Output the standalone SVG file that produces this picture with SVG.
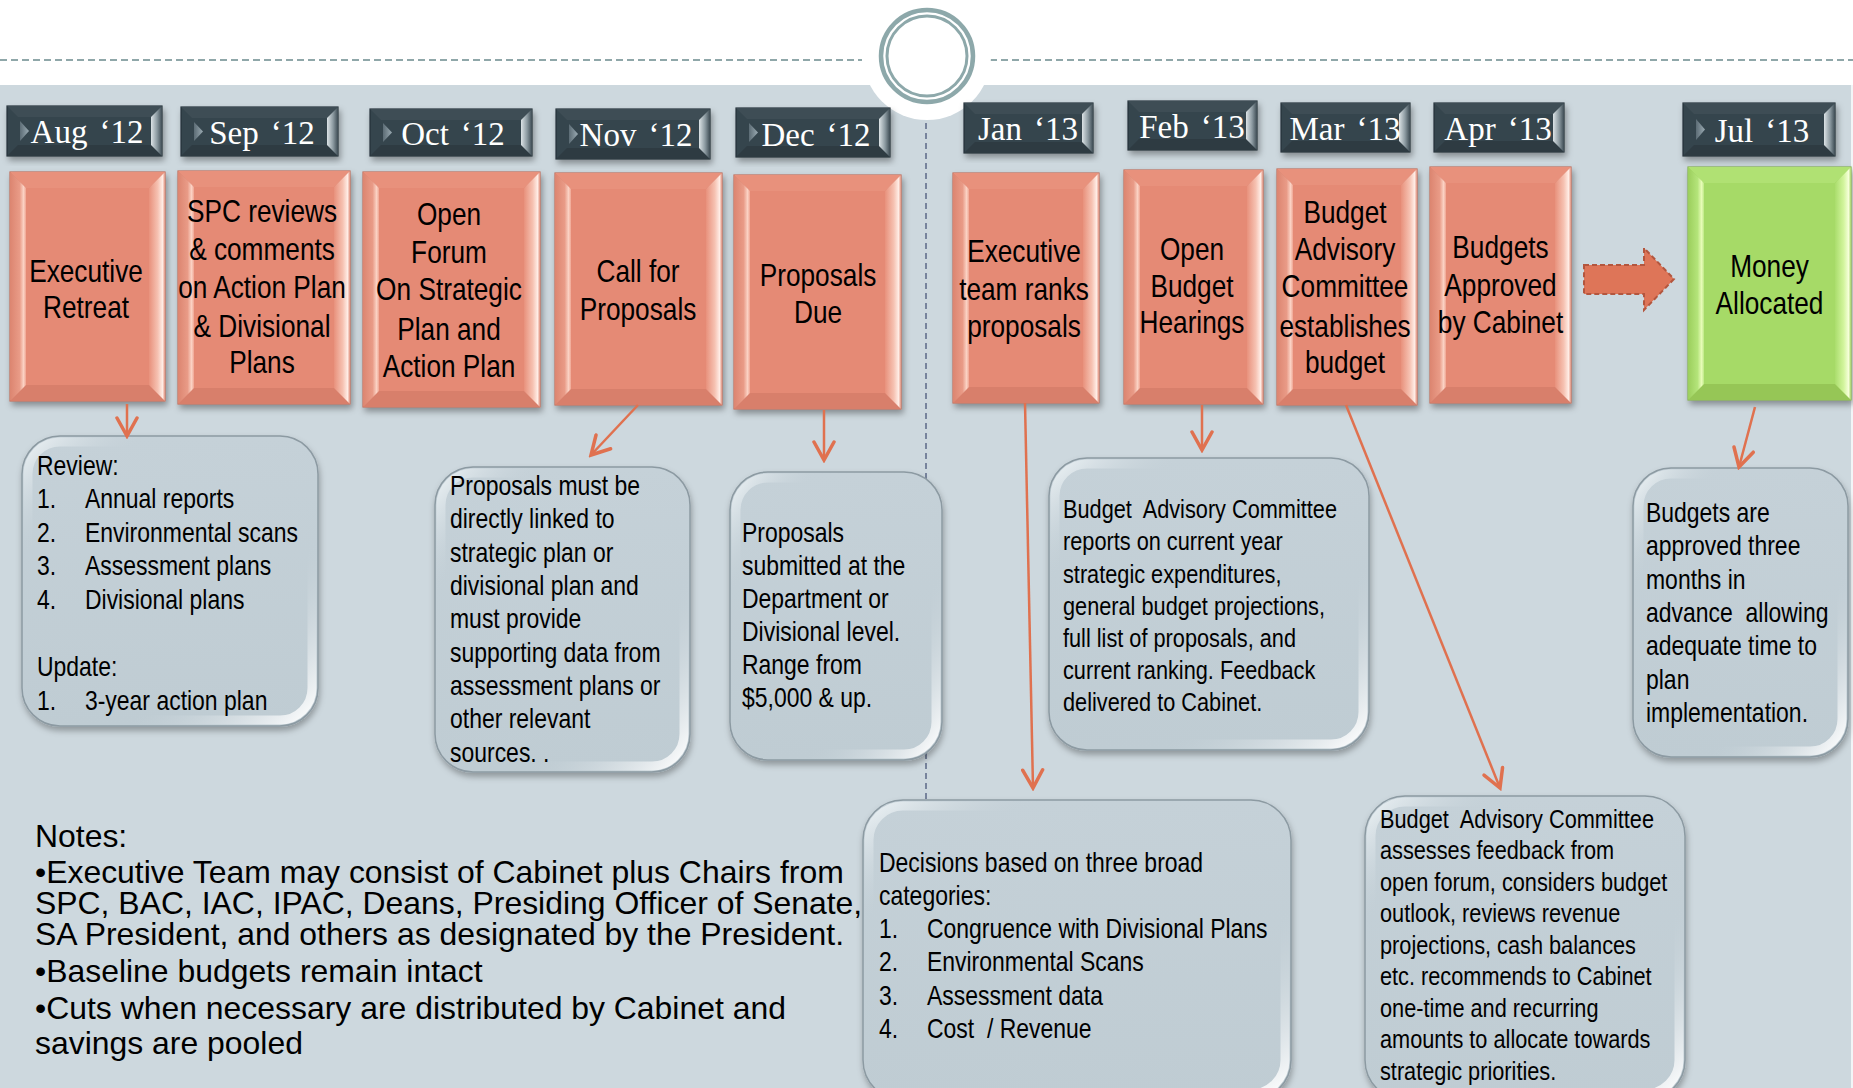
<svg xmlns="http://www.w3.org/2000/svg" width="1853" height="1088" viewBox="0 0 1853 1088">
<defs>
<style>
.bg{fill:#CDD8DE}
.so{fill:#D98572;stroke:#BF6E5C;stroke-width:1.2;filter:url(#sh)}
.st{fill:#E8917C}
.sb{fill:#D87F6B}
.sl{fill:url(#sL)}
.sr{fill:url(#sR)}
.sf{fill:#E58A75}
.go{fill:#9CCF5C;stroke:#84AE4E;stroke-width:1.2;filter:url(#sh)}
.gt{fill:#B0E173}
.gb{fill:#96C656}
.gl{fill:url(#gL)}
.gr{fill:url(#gR)}
.gf{fill:#A6DA67}
.lo{fill:#36454D;stroke:#27333A;stroke-width:1.2;filter:url(#sh)}
.lt2{fill:#3E4D55}
.lb2{fill:#2E3B42}
.lr{fill:url(#lR)}
.ltri{fill:url(#lT)}
.lt{font-family:"Liberation Serif","Times New Roman",serif;font-size:33px;fill:#FFFFFF;text-anchor:middle}
.tt{font-family:"Liberation Sans",Arial,sans-serif;font-size:32px;fill:#000;text-anchor:middle}
.nt{font-family:"Liberation Sans",Arial,sans-serif;font-size:28px;fill:#000}
.ns{font-family:"Liberation Sans",Arial,sans-serif;font-size:26.5px;fill:#000;white-space:pre}
.notes{font-family:"Liberation Sans",Arial,sans-serif;font-size:31px;fill:#000}
.nb{fill:url(#nF);stroke:#8C9AA2;stroke-width:1.5;filter:url(#sh2)}
.nh{fill:none;stroke:url(#nH);stroke-width:9}
.conn{fill:none;stroke:#E0714F;stroke-width:2.5;marker-end:url(#ah)}
</style>
<filter id="sh" x="-15%" y="-10%" width="135%" height="130%">
<feDropShadow dx="2" dy="4" stdDeviation="3" flood-color="#000" flood-opacity="0.35"/>
</filter>
<filter id="sh2" x="-15%" y="-10%" width="135%" height="130%">
<feDropShadow dx="1" dy="4" stdDeviation="3" flood-color="#000" flood-opacity="0.3"/>
</filter>
<linearGradient id="sL" x1="0" y1="0" x2="1" y2="0">
<stop offset="0" stop-color="#DC8570"/><stop offset="0.6" stop-color="#E99B87"/><stop offset="0.85" stop-color="#FBD3C5"/><stop offset="1" stop-color="#EFA592"/>
</linearGradient>
<linearGradient id="sR" x1="0" y1="0" x2="1" y2="0">
<stop offset="0" stop-color="#E8917C"/><stop offset="0.55" stop-color="#F6C2B2"/><stop offset="0.85" stop-color="#FFEDE6"/><stop offset="1" stop-color="#E0907D"/>
</linearGradient>
<linearGradient id="gL" x1="0" y1="0" x2="1" y2="0">
<stop offset="0" stop-color="#9BCE5C"/><stop offset="0.6" stop-color="#B4E47A"/><stop offset="0.85" stop-color="#E8FCB8"/><stop offset="1" stop-color="#BDE985"/>
</linearGradient>
<linearGradient id="gR" x1="0" y1="0" x2="1" y2="0">
<stop offset="0" stop-color="#AADD6C"/><stop offset="0.55" stop-color="#D3F59E"/><stop offset="0.85" stop-color="#F6FFDA"/><stop offset="1" stop-color="#A3D265"/>
</linearGradient>
<linearGradient id="lR" x1="0" y1="0" x2="1" y2="0">
<stop offset="0" stop-color="#DCE3E6"/><stop offset="0.55" stop-color="#8C9AA1"/><stop offset="1" stop-color="#3E4C54"/>
</linearGradient>
<linearGradient id="lT" x1="0" y1="0" x2="1" y2="0">
<stop offset="0" stop-color="#5C6C75"/><stop offset="1" stop-color="#9AAAB2"/>
</linearGradient>
<linearGradient id="nF" x1="0" y1="0" x2="0" y2="1">
<stop offset="0" stop-color="#C5D1D8"/><stop offset="1" stop-color="#BFCCD3"/>
</linearGradient>
<linearGradient id="nH" x1="0" y1="0" x2="1" y2="1">
<stop offset="0" stop-color="#F2F7F9" stop-opacity="0.85"/><stop offset="0.2" stop-color="#C4D0D7" stop-opacity="0"/><stop offset="0.68" stop-color="#C4D0D7" stop-opacity="0"/><stop offset="1" stop-color="#FFFFFF" stop-opacity="1"/>
</linearGradient>
<marker id="ah" viewBox="0 0 24 24" markerWidth="24" markerHeight="24" refX="21" refY="12" orient="auto" markerUnits="userSpaceOnUse">
<path d="M3,2 L21,12 L3,22" fill="none" stroke="#E0714F" stroke-width="3.5" stroke-linecap="round"/>
</marker>
</defs>

<!-- background -->
<rect x="0" y="0" width="1853" height="1088" class="bg"/>
<rect x="0" y="0" width="1853" height="85" fill="#FFFFFF"/>
<rect x="1851" y="85" width="2" height="1003" fill="#F2F5F7"/>
<line x1="0" y1="60" x2="862" y2="60" stroke="#8FA7A9" stroke-width="2" stroke-dasharray="7 4"/>
<line x1="990" y1="60" x2="1853" y2="60" stroke="#8FA7A9" stroke-width="2" stroke-dasharray="7 4"/>
<circle cx="927" cy="56" r="64" fill="#FFFFFF"/>
<circle cx="927" cy="56" r="46" fill="none" stroke="#8DA8AA" stroke-width="4.5"/>
<circle cx="927" cy="56" r="40" fill="none" stroke="#8DA8AA" stroke-width="3"/>
<line x1="926" y1="123" x2="926" y2="800" stroke="#6E7B96" stroke-width="1.8" stroke-dasharray="6 4"/>

<!-- month labels -->
<g id="lbl-aug" transform="translate(7,106)">
<rect class="lo" width="155" height="50"/><polygon class="lt2" points="0,0 155,0 144,11 11,11"/><polygon class="lb2" points="0,50 155,50 144,39 11,39"/><polygon class="lr" points="155,0 144,11 144,39 155,50"/><polygon class="ltri" points="13,15 22,25 13,35"/>
<text class="lt" x="80" y="37">Aug<tspan dx="12">‘12</tspan></text>
</g>
<g id="lbl-sep" transform="translate(181,107)">
<rect class="lo" width="157" height="49"/><polygon class="lt2" points="0,0 157,0 146,11 11,11"/><polygon class="lb2" points="0,49 157,49 146,38 11,38"/><polygon class="lr" points="157,0 146,11 146,38 157,49"/><polygon class="ltri" points="13,15 22,24.5 13,34"/>
<text class="lt" x="81" y="37">Sep<tspan dx="12">‘12</tspan></text>
</g>
<g id="lbl-oct" transform="translate(370,109)">
<rect class="lo" width="162" height="47"/><polygon class="lt2" points="0,0 162,0 151,11 11,11"/><polygon class="lb2" points="0,47 162,47 151,36 11,36"/><polygon class="lr" points="162,0 151,11 151,36 162,47"/><polygon class="ltri" points="13,14 22,23.5 13,33"/>
<text class="lt" x="83" y="36">Oct<tspan dx="12">‘12</tspan></text>
</g>
<g id="lbl-nov" transform="translate(556,109)">
<rect class="lo" width="154" height="50"/><polygon class="lt2" points="0,0 154,0 143,11 11,11"/><polygon class="lb2" points="0,50 154,50 143,39 11,39"/><polygon class="lr" points="154,0 143,11 143,39 154,50"/><polygon class="ltri" points="13,15 22,25 13,35"/>
<text class="lt" x="80" y="37">Nov<tspan dx="12">‘12</tspan></text>
</g>
<g id="lbl-dec" transform="translate(736,108)">
<rect class="lo" width="154" height="49"/><polygon class="lt2" points="0,0 154,0 143,11 11,11"/><polygon class="lb2" points="0,49 154,49 143,38 11,38"/><polygon class="lr" points="154,0 143,11 143,38 154,49"/><polygon class="ltri" points="13,15 22,24.5 13,34"/>
<text class="lt" x="80" y="38">Dec<tspan dx="12">‘12</tspan></text>
</g>
<g id="lbl-jan" transform="translate(964,103)">
<rect class="lo" width="129" height="50"/><polygon class="lt2" points="0,0 129,0 118,11 11,11"/><polygon class="lb2" points="0,50 129,50 118,39 11,39"/><polygon class="lr" points="129,0 118,11 118,39 129,50"/>
<text class="lt" x="64" y="37">Jan<tspan dx="12">‘13</tspan></text>
</g>
<g id="lbl-feb" transform="translate(1128,101)">
<rect class="lo" width="129" height="49"/><polygon class="lt2" points="0,0 129,0 118,11 11,11"/><polygon class="lb2" points="0,49 129,49 118,38 11,38"/><polygon class="lr" points="129,0 118,11 118,38 129,49"/>
<text class="lt" x="64" y="37">Feb<tspan dx="12">‘13</tspan></text>
</g>
<g id="lbl-mar" transform="translate(1281,103)">
<rect class="lo" width="129" height="49"/><polygon class="lt2" points="0,0 129,0 118,11 11,11"/><polygon class="lb2" points="0,49 129,49 118,38 11,38"/><polygon class="lr" points="129,0 118,11 118,38 129,49"/>
<text class="lt" x="64" y="37">Mar<tspan dx="12">‘13</tspan></text>
</g>
<g id="lbl-apr" transform="translate(1434,103)">
<rect class="lo" width="130" height="49"/><polygon class="lt2" points="0,0 130,0 119,11 11,11"/><polygon class="lb2" points="0,49 130,49 119,38 11,38"/><polygon class="lr" points="130,0 119,11 119,38 130,49"/>
<text class="lt" x="64" y="37">Apr<tspan dx="12">‘13</tspan></text>
</g>
<g id="lbl-jul" transform="translate(1683,103)">
<rect class="lo" width="152" height="53"/><polygon class="lt2" points="0,0 152,0 141,11 11,11"/><polygon class="lb2" points="0,53 152,53 141,42 11,42"/><polygon class="lr" points="152,0 141,11 141,42 152,53"/><polygon class="ltri" points="13,16 22,26.5 13,37"/>
<text class="lt" x="79" y="39">Jul<tspan dx="12">‘13</tspan></text>
</g>

<!-- task boxes -->
<g id="box-aug" transform="translate(10,172)">
<rect class="so" width="155" height="229"/><polygon class="st" points="0,0 155,0 139,16 16,16"/><polygon class="sb" points="0,229 155,229 139,213 16,213"/><polygon class="sl" points="0,0 16,16 16,213 0,229"/><polygon class="sr" points="155,0 139,16 139,213 155,229"/><rect class="sf" x="16" y="16" width="123" height="197"/>
<g transform="translate(76,0) scale(0.82,1)"><text class="tt"><tspan x="0" y="110">Executive</tspan><tspan x="0" y="146">Retreat</tspan></text></g>
</g>
<g id="box-sep" transform="translate(178,171)">
<rect class="so" width="172" height="233"/><polygon class="st" points="0,0 172,0 156,16 16,16"/><polygon class="sb" points="0,233 172,233 156,217 16,217"/><polygon class="sl" points="0,0 16,16 16,217 0,233"/><polygon class="sr" points="172,0 156,16 156,217 172,233"/><rect class="sf" x="16" y="16" width="140" height="201"/>
<g transform="translate(84,0) scale(0.82,1)"><text class="tt"><tspan x="0" y="51">SPC reviews</tspan><tspan x="0" y="89">&amp; comments</tspan><tspan x="0" y="127">on Action Plan</tspan><tspan x="0" y="166">&amp; Divisional</tspan><tspan x="0" y="202">Plans</tspan></text></g>
</g>
<g id="box-oct" transform="translate(363,172)">
<rect class="so" width="177" height="235"/><polygon class="st" points="0,0 177,0 161,16 16,16"/><polygon class="sb" points="0,235 177,235 161,219 16,219"/><polygon class="sl" points="0,0 16,16 16,219 0,235"/><polygon class="sr" points="177,0 161,16 161,219 177,235"/><rect class="sf" x="16" y="16" width="145" height="203"/>
<g transform="translate(86,0) scale(0.82,1)"><text class="tt"><tspan x="0" y="53">Open</tspan><tspan x="0" y="91">Forum</tspan><tspan x="0" y="128">On Strategic</tspan><tspan x="0" y="168">Plan and</tspan><tspan x="0" y="205">Action Plan</tspan></text></g>
</g>
<g id="box-nov" transform="translate(555,173)">
<rect class="so" width="167" height="232"/><polygon class="st" points="0,0 167,0 151,16 16,16"/><polygon class="sb" points="0,232 167,232 151,216 16,216"/><polygon class="sl" points="0,0 16,16 16,216 0,232"/><polygon class="sr" points="167,0 151,16 151,216 167,232"/><rect class="sf" x="16" y="16" width="135" height="200"/>
<g transform="translate(83,0) scale(0.82,1)"><text class="tt"><tspan x="0" y="109">Call for</tspan><tspan x="0" y="147">Proposals</tspan></text></g>
</g>
<g id="box-dec" transform="translate(734,175)">
<rect class="so" width="167" height="234"/><polygon class="st" points="0,0 167,0 151,16 16,16"/><polygon class="sb" points="0,234 167,234 151,218 16,218"/><polygon class="sl" points="0,0 16,16 16,218 0,234"/><polygon class="sr" points="167,0 151,16 151,218 167,234"/><rect class="sf" x="16" y="16" width="135" height="202"/>
<g transform="translate(84,0) scale(0.82,1)"><text class="tt"><tspan x="0" y="111">Proposals</tspan><tspan x="0" y="148">Due</tspan></text></g>
</g>
<g id="box-jan" transform="translate(953,173)">
<rect class="so" width="146" height="230"/><polygon class="st" points="0,0 146,0 130,16 16,16"/><polygon class="sb" points="0,230 146,230 130,214 16,214"/><polygon class="sl" points="0,0 16,16 16,214 0,230"/><polygon class="sr" points="146,0 130,16 130,214 146,230"/><rect class="sf" x="16" y="16" width="114" height="198"/>
<g transform="translate(71,0) scale(0.82,1)"><text class="tt"><tspan x="0" y="89">Executive</tspan><tspan x="0" y="127">team ranks</tspan><tspan x="0" y="164">proposals</tspan></text></g>
</g>
<g id="box-feb" transform="translate(1124,170)">
<rect class="so" width="139" height="234"/><polygon class="st" points="0,0 139,0 123,16 16,16"/><polygon class="sb" points="0,234 139,234 123,218 16,218"/><polygon class="sl" points="0,0 16,16 16,218 0,234"/><polygon class="sr" points="139,0 123,16 123,218 139,234"/><rect class="sf" x="16" y="16" width="107" height="202"/>
<g transform="translate(68,0) scale(0.82,1)"><text class="tt"><tspan x="0" y="90">Open</tspan><tspan x="0" y="127">Budget</tspan><tspan x="0" y="163">Hearings</tspan></text></g>
</g>
<g id="box-mar" transform="translate(1277,169)">
<rect class="so" width="140" height="236"/><polygon class="st" points="0,0 140,0 124,16 16,16"/><polygon class="sb" points="0,236 140,236 124,220 16,220"/><polygon class="sl" points="0,0 16,16 16,220 0,236"/><polygon class="sr" points="140,0 124,16 124,220 140,236"/><rect class="sf" x="16" y="16" width="108" height="204"/>
<g transform="translate(68,0) scale(0.82,1)"><text class="tt"><tspan x="0" y="54">Budget</tspan><tspan x="0" y="91">Advisory</tspan><tspan x="0" y="128">Committee</tspan><tspan x="0" y="168">establishes</tspan><tspan x="0" y="204">budget</tspan></text></g>
</g>
<g id="box-apr" transform="translate(1430,167)">
<rect class="so" width="141" height="236"/><polygon class="st" points="0,0 141,0 125,16 16,16"/><polygon class="sb" points="0,236 141,236 125,220 16,220"/><polygon class="sl" points="0,0 16,16 16,220 0,236"/><polygon class="sr" points="141,0 125,16 125,220 141,236"/><rect class="sf" x="16" y="16" width="109" height="204"/>
<g transform="translate(70.5,0) scale(0.82,1)"><text class="tt"><tspan x="0" y="91">Budgets</tspan><tspan x="0" y="129">Approved</tspan><tspan x="0" y="166">by Cabinet</tspan></text></g>
</g>
<g id="box-money" transform="translate(1688,167)">
<rect class="go" width="163" height="233"/><polygon class="gt" points="0,0 163,0 147,16 16,16"/><polygon class="gb" points="0,233 163,233 147,217 16,217"/><polygon class="gl" points="0,0 16,16 16,217 0,233"/><polygon class="gr" points="163,0 147,16 147,217 163,233"/><rect class="gf" x="16" y="16" width="131" height="201"/>
<g transform="translate(81.5,0) scale(0.82,1)"><text class="tt"><tspan x="0" y="110">Money</tspan><tspan x="0" y="147">Allocated</tspan></text></g>
</g>

<!-- block arrow -->
<g id="block-arrow">
<polygon points="1584,265 1644,265 1644,248 1674,279 1644,310 1644,294 1584,294" fill="#DE7558" stroke="#B3563E" stroke-width="2" stroke-dasharray="5 3"/>
</g>

<!-- note boxes -->
<g id="note-review">
<rect class="nb" x="22" y="436" width="296" height="290" rx="38"/>
<rect class="nh" x="28" y="442" width="284" height="278" rx="32"/>
<g transform="translate(37,0) scale(0.82,1)"><text class="nt">
<tspan x="0" y="475">Review:</tspan>
<tspan x="0" y="508.5">1.</tspan><tspan x="58.5" y="508.5">Annual reports</tspan>
<tspan x="0" y="542">2.</tspan><tspan x="58.5" y="542">Environmental scans</tspan>
<tspan x="0" y="575.5">3.</tspan><tspan x="58.5" y="575.5">Assessment plans</tspan>
<tspan x="0" y="609">4.</tspan><tspan x="58.5" y="609">Divisional plans</tspan>
<tspan x="0" y="676">Update:</tspan>
<tspan x="0" y="710">1.</tspan><tspan x="58.5" y="710">3-year action plan</tspan>
</text></g>
</g>
<g id="note-proposals-linked">
<rect class="nb" x="435" y="467" width="255" height="305" rx="38"/>
<rect class="nh" x="441" y="473" width="243" height="293" rx="32"/>
<g transform="translate(450,0) scale(0.82,1)"><text class="nt">
<tspan x="0" y="495">Proposals must be</tspan>
<tspan x="0" y="528">directly linked to</tspan>
<tspan x="0" y="562">strategic plan or</tspan>
<tspan x="0" y="595">divisional plan and</tspan>
<tspan x="0" y="628">must provide</tspan>
<tspan x="0" y="662">supporting data from</tspan>
<tspan x="0" y="695">assessment plans or</tspan>
<tspan x="0" y="728">other relevant</tspan>
<tspan x="0" y="762">sources. .</tspan>
</text></g>
</g>
<g id="note-submitted">
<rect class="nb" x="730" y="472" width="212" height="288" rx="38"/>
<rect class="nh" x="736" y="478" width="200" height="276" rx="32"/>
<g transform="translate(742,0) scale(0.82,1)"><text class="nt">
<tspan x="0" y="542">Proposals</tspan>
<tspan x="0" y="575">submitted at the</tspan>
<tspan x="0" y="608">Department or</tspan>
<tspan x="0" y="641">Divisional level.</tspan>
<tspan x="0" y="674">Range from</tspan>
<tspan x="0" y="707">$5,000 &amp; up.</tspan>
</text></g>
</g>
<g id="note-bac-reports">
<rect class="nb" x="1049" y="458" width="320" height="292" rx="38"/>
<rect class="nh" x="1055" y="464" width="308" height="280" rx="32"/>
<g transform="translate(1063,0) scale(0.82,1)"><text class="ns">
<tspan x="0" y="518">Budget  Advisory Committee</tspan>
<tspan x="0" y="550">reports on current year</tspan>
<tspan x="0" y="583">strategic expenditures,</tspan>
<tspan x="0" y="615">general budget projections,</tspan>
<tspan x="0" y="647">full list of proposals, and</tspan>
<tspan x="0" y="679">current ranking. Feedback</tspan>
<tspan x="0" y="711">delivered to Cabinet.</tspan>
</text></g>
</g>
<g id="note-budgets-approved">
<rect class="nb" x="1633" y="468" width="215" height="289" rx="38"/>
<rect class="nh" x="1639" y="474" width="203" height="277" rx="32"/>
<g transform="translate(1646,0) scale(0.82,1)"><text class="nt" style="white-space:pre">
<tspan x="0" y="522">Budgets are</tspan>
<tspan x="0" y="555">approved three</tspan>
<tspan x="0" y="589">months in</tspan>
<tspan x="0" y="622">advance  allowing</tspan>
<tspan x="0" y="655">adequate time to</tspan>
<tspan x="0" y="689">plan</tspan>
<tspan x="0" y="722">implementation.</tspan>
</text></g>
</g>
<g id="note-decisions">
<rect class="nb" x="863" y="800" width="428" height="300" rx="40"/>
<rect class="nh" x="869" y="806" width="416" height="288" rx="34"/>
<g transform="translate(879,0) scale(0.82,1)"><text class="nt">
<tspan x="0" y="872">Decisions based on three broad</tspan>
<tspan x="0" y="905">categories:</tspan>
<tspan x="0" y="938">1.</tspan><tspan x="58.5" y="938">Congruence with Divisional Plans</tspan>
<tspan x="0" y="971">2.</tspan><tspan x="58.5" y="971">Environmental Scans</tspan>
<tspan x="0" y="1005">3.</tspan><tspan x="58.5" y="1005">Assessment data</tspan>
<tspan x="0" y="1038">4.</tspan><tspan x="58.5" y="1038" style="white-space:pre">Cost  / Revenue</tspan>
</text></g>
</g>
<g id="note-bac-assesses">
<rect class="nb" x="1365" y="796" width="320" height="304" rx="40"/>
<rect class="nh" x="1371" y="802" width="308" height="292" rx="34"/>
<g transform="translate(1380,0) scale(0.82,1)"><text class="ns">
<tspan x="0" y="828">Budget  Advisory Committee</tspan>
<tspan x="0" y="859">assesses feedback from</tspan>
<tspan x="0" y="891">open forum, considers budget</tspan>
<tspan x="0" y="922">outlook, reviews revenue</tspan>
<tspan x="0" y="954">projections, cash balances</tspan>
<tspan x="0" y="985">etc. recommends to Cabinet</tspan>
<tspan x="0" y="1017">one-time and recurring</tspan>
<tspan x="0" y="1048">amounts to allocate towards</tspan>
<tspan x="0" y="1080">strategic priorities.</tspan>
</text></g>
</g>

<!-- notes -->
<g id="notes" transform="translate(35,0) scale(1.03,1)">
<text class="notes">
<tspan x="0" y="847">Notes:</tspan>
<tspan x="0" y="883">•Executive Team may consist of Cabinet plus Chairs from</tspan>
<tspan x="0" y="914">SPC, BAC, IAC, IPAC, Deans, Presiding Officer of Senate,</tspan>
<tspan x="0" y="945">SA President, and others as designated by the President.</tspan>
<tspan x="0" y="982">•Baseline budgets remain intact</tspan>
<tspan x="0" y="1019">•Cuts when necessary are distributed by Cabinet and</tspan>
<tspan x="0" y="1054">savings are pooled</tspan>
</text>
</g>

<!-- connectors -->
<g id="connectors">
<path class="conn" d="M127,404 L127,436"/>
<path class="conn" d="M638,405 L591,455"/>
<path class="conn" d="M824,410 L824,460"/>
<path class="conn" d="M1025,403 L1033,788"/>
<path class="conn" d="M1202,405 L1202,450"/>
<path class="conn" d="M1346,405 L1500,788"/>
<path class="conn" d="M1755,407 L1739,467"/>
</g>
</svg>
